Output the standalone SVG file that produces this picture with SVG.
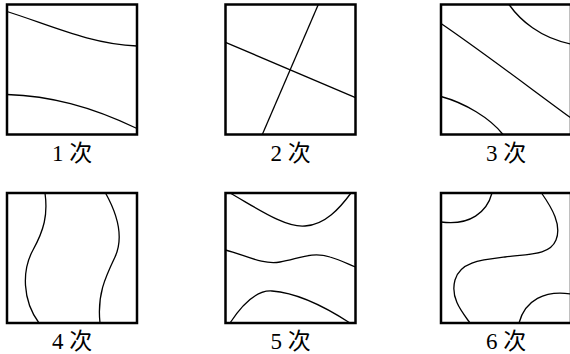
<svg xmlns="http://www.w3.org/2000/svg" width="570" height="354" viewBox="0 0 570 354">
<style>
.frame{fill:none;stroke:#000;stroke-width:2.5}
.c{fill:none;stroke:#000;stroke-width:1.3}
.lab{font-family:"Liberation Serif","Noto Sans CJK SC",serif;font-size:23px;fill:#000;text-anchor:middle}
</style>
<rect width="570" height="354" fill="#fff"/>
<g id="p1">
<rect class="frame" x="7" y="4.5" width="130" height="130"/>
<path class="c" d="M7,11.5 C50,25 90,44 137,46"/>
<path class="c" d="M7,94.5 C50,96 90,106 137,128.5"/>
<text class="lab" x="72" y="161">1 次</text>
</g>
<g id="p2">
<rect class="frame" x="225.5" y="4.5" width="130" height="130"/>
<path class="c" d="M318.3,4.5 L262.3,134.5"/>
<path class="c" d="M225.5,42.3 L355.5,97.7"/>
<text class="lab" x="290.5" y="161">2 次</text>
</g>
<g id="p3">
<rect class="frame" x="441" y="4.5" width="130" height="130"/>
<path class="c" d="M509,4.5 C520,20 540,38 571,44"/>
<path class="c" d="M441,23.5 C480,50 530,88 571,118"/>
<path class="c" d="M441,96.5 C465,103 490,118 503,134.5"/>
<text class="lab" x="506" y="161">3 次</text>
</g>
<g id="p4">
<rect class="frame" x="7" y="193" width="130" height="130"/>
<path class="c" d="M45,193 C48,215 44,230 33,250 C22,270 22,300 39,323"/>
<path class="c" d="M105.5,193 C115,210 125,235 115,257 C105,278 97,295 100,323"/>
<text class="lab" x="72" y="349">4 次</text>
</g>
<g id="p5">
<rect class="frame" x="225.5" y="193" width="130" height="130"/>
<path class="c" d="M230,193 C255,207 285,228 305,226 C325,225 340,208 351,193"/>
<path class="c" d="M225.5,250 C245,255 262,265 280,262 C298,259 312,251 330,257 C340,260 348,264 355.5,267"/>
<path class="c" d="M230,323 C245,300 258,290 272,291 C300,293 330,310 350,323"/>
<text class="lab" x="290.5" y="349">5 次</text>
</g>
<g id="p6">
<rect class="frame" x="441" y="193" width="130" height="130"/>
<path class="c" d="M492,193 C487,212 470,226 441,222"/>
<path class="c" d="M541.5,193 C552,208 562,225 556,240 C550,255 530,254 505,257 C480,260 460,262 455,280 C450,298 462,312 470,323"/>
<path class="c" d="M519,323 C525,300 545,290 571,294"/>
<text class="lab" x="506" y="349">6 次</text>
</g>
<g id="connectors"/>
</svg>
